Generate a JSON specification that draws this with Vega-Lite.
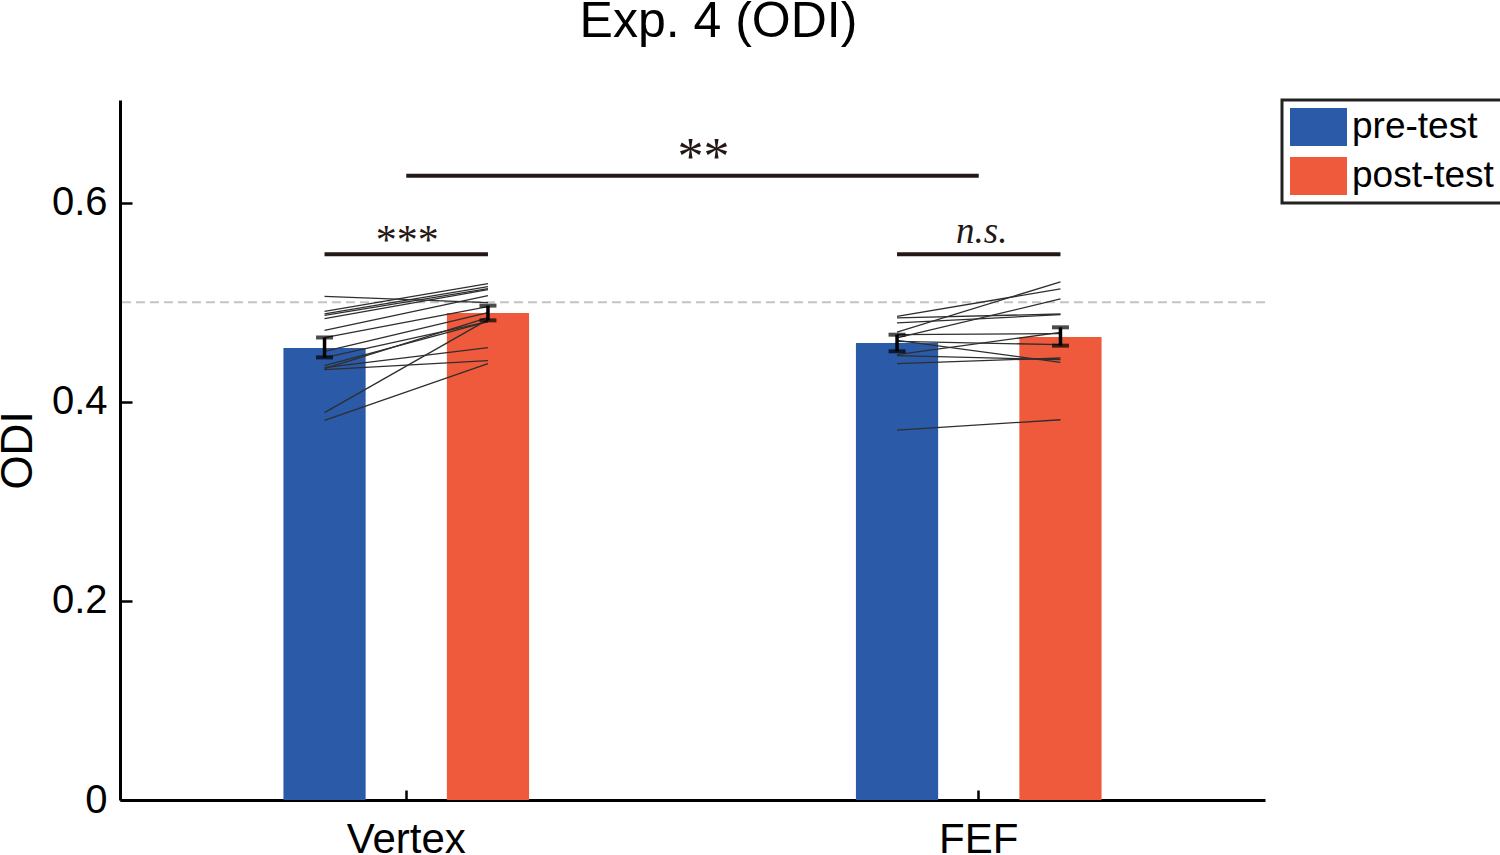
{
  "$schema": "https://vega.github.io/schema/vega-lite/v6.json",
  "width": 1145,
  "height": 700,
  "autosize": {"type": "none"},
  "padding": {"left": 120, "top": 100, "right": 235, "bottom": 55},
  "title": {
    "text": "Exp. 4 (ODI)",
    "fontSize": 50,
    "fontWeight": "normal",
    "font": "Liberation Sans",
    "color": "#000000",
    "anchor": "middle",
    "baseline": "alphabetic",
    "offset": 12,
    "dx": 26
  },
  "datasets": {
    "bars": [
      {"group": "Vertex", "phase": "pre-test", "mean": 0.454, "lo": 0.4445, "hi": 0.4645},
      {"group": "Vertex", "phase": "post-test", "mean": 0.489, "lo": 0.4817, "hi": 0.4965},
      {"group": "FEF", "phase": "pre-test", "mean": 0.459, "lo": 0.4506, "hi": 0.4673},
      {"group": "FEF", "phase": "post-test", "mean": 0.465, "lo": 0.4563, "hi": 0.4747}
    ],
    "subjects": [
      {"group": "Vertex", "subject": "V1", "phase": "pre-test", "odi": 0.5058},
      {"group": "Vertex", "subject": "V1", "phase": "post-test", "odi": 0.4995},
      {"group": "Vertex", "subject": "V2", "phase": "pre-test", "odi": 0.4908},
      {"group": "Vertex", "subject": "V2", "phase": "post-test", "odi": 0.5186},
      {"group": "Vertex", "subject": "V3", "phase": "pre-test", "odi": 0.4881},
      {"group": "Vertex", "subject": "V3", "phase": "post-test", "odi": 0.5156},
      {"group": "Vertex", "subject": "V4", "phase": "pre-test", "odi": 0.4867},
      {"group": "Vertex", "subject": "V4", "phase": "post-test", "odi": 0.5136},
      {"group": "Vertex", "subject": "V5", "phase": "pre-test", "odi": 0.4834},
      {"group": "Vertex", "subject": "V5", "phase": "post-test", "odi": 0.5126},
      {"group": "Vertex", "subject": "V6", "phase": "pre-test", "odi": 0.4717},
      {"group": "Vertex", "subject": "V6", "phase": "post-test", "odi": 0.5065},
      {"group": "Vertex", "subject": "V7", "phase": "pre-test", "odi": 0.4643},
      {"group": "Vertex", "subject": "V7", "phase": "post-test", "odi": 0.4955},
      {"group": "Vertex", "subject": "V8", "phase": "pre-test", "odi": 0.4506},
      {"group": "Vertex", "subject": "V8", "phase": "post-test", "odi": 0.4894},
      {"group": "Vertex", "subject": "V9", "phase": "pre-test", "odi": 0.4442},
      {"group": "Vertex", "subject": "V9", "phase": "post-test", "odi": 0.4804},
      {"group": "Vertex", "subject": "V10", "phase": "pre-test", "odi": 0.4362},
      {"group": "Vertex", "subject": "V10", "phase": "post-test", "odi": 0.4804},
      {"group": "Vertex", "subject": "V11", "phase": "pre-test", "odi": 0.4342},
      {"group": "Vertex", "subject": "V11", "phase": "post-test", "odi": 0.4543},
      {"group": "Vertex", "subject": "V12", "phase": "pre-test", "odi": 0.4322},
      {"group": "Vertex", "subject": "V12", "phase": "post-test", "odi": 0.4412},
      {"group": "Vertex", "subject": "V13", "phase": "pre-test", "odi": 0.4332},
      {"group": "Vertex", "subject": "V13", "phase": "post-test", "odi": 0.4844},
      {"group": "Vertex", "subject": "V14", "phase": "pre-test", "odi": 0.389},
      {"group": "Vertex", "subject": "V14", "phase": "post-test", "odi": 0.4824},
      {"group": "Vertex", "subject": "V15", "phase": "pre-test", "odi": 0.3812},
      {"group": "Vertex", "subject": "V15", "phase": "post-test", "odi": 0.4382},
      {"group": "FEF", "subject": "F1", "phase": "pre-test", "odi": 0.4857},
      {"group": "FEF", "subject": "F1", "phase": "post-test", "odi": 0.5133},
      {"group": "FEF", "subject": "F2", "phase": "pre-test", "odi": 0.4841},
      {"group": "FEF", "subject": "F2", "phase": "post-test", "odi": 0.4881},
      {"group": "FEF", "subject": "F3", "phase": "pre-test", "odi": 0.4791},
      {"group": "FEF", "subject": "F3", "phase": "post-test", "odi": 0.4874},
      {"group": "FEF", "subject": "F4", "phase": "pre-test", "odi": 0.47},
      {"group": "FEF", "subject": "F4", "phase": "post-test", "odi": 0.5203},
      {"group": "FEF", "subject": "F5", "phase": "pre-test", "odi": 0.4673},
      {"group": "FEF", "subject": "F5", "phase": "post-test", "odi": 0.4683},
      {"group": "FEF", "subject": "F6", "phase": "pre-test", "odi": 0.464},
      {"group": "FEF", "subject": "F6", "phase": "post-test", "odi": 0.5032},
      {"group": "FEF", "subject": "F7", "phase": "pre-test", "odi": 0.4616},
      {"group": "FEF", "subject": "F7", "phase": "post-test", "odi": 0.4395},
      {"group": "FEF", "subject": "F8", "phase": "pre-test", "odi": 0.4606},
      {"group": "FEF", "subject": "F8", "phase": "post-test", "odi": 0.4573},
      {"group": "FEF", "subject": "F9", "phase": "pre-test", "odi": 0.4472},
      {"group": "FEF", "subject": "F9", "phase": "post-test", "odi": 0.4696},
      {"group": "FEF", "subject": "F10", "phase": "pre-test", "odi": 0.4462},
      {"group": "FEF", "subject": "F10", "phase": "post-test", "odi": 0.4422},
      {"group": "FEF", "subject": "F11", "phase": "pre-test", "odi": 0.4382},
      {"group": "FEF", "subject": "F11", "phase": "post-test", "odi": 0.4439},
      {"group": "FEF", "subject": "F12", "phase": "pre-test", "odi": 0.3714},
      {"group": "FEF", "subject": "F12", "phase": "post-test", "odi": 0.3819}
    ],
    "within": [
      {"group": "Vertex", "phase": "pre-test", "level": 0.548, "label": "***"},
      {"group": "Vertex", "phase": "post-test", "level": 0.548, "label": "***"},
      {"group": "FEF", "phase": "pre-test", "level": 0.548, "label": "n.s."},
      {"group": "FEF", "phase": "post-test", "level": 0.548, "label": "n.s."}
    ],
    "withinLabels": [
      {"group": "Vertex", "level": 0.548, "label": "***"},
      {"group": "FEF", "level": 0.548, "label": "n.s."}
    ],
    "between": [
      {"group": "Vertex", "level": 0.627},
      {"group": "FEF", "level": 0.627}
    ],
    "betweenLabel": [
      {"comparison": "Vertex vs FEF", "level": 0.627, "label": "**"}
    ]
  },
  "layer": [
    {
      "layer": [
        {
          "data": {"values": [{"chance": 0.5}]},
          "mark": {"type": "rule", "color": "#c4c4c4", "strokeWidth": 2, "strokeDash": [9, 5]},
          "encoding": {
            "y": {"field": "chance", "type": "quantitative", "title": "ODI"}
          }
        },
        {
          "data": {"name": "bars"},
          "mark": {"type": "bar"},
          "encoding": {
            "x": {
              "field": "group", "type": "nominal", "sort": ["Vertex", "FEF"],
              "scale": {"domain": ["Vertex", "FEF"], "paddingInner": 0, "paddingOuter": 0},
              "axis": {
                "title": null, "labelAngle": 0, "labelFontSize": 42, "labelColor": "#000000",
                "labelPadding": 29, "tickSize": -10, "tickWidth": 2.5, "tickColor": "#000000",
                "domainColor": "#000000", "domainWidth": 3, "grid": false
              }
            },
            "xOffset": {
              "field": "phase", "type": "nominal",
              "scale": {"domain": ["pre-test", "post-test"], "paddingInner": 0.497, "paddingOuter": 1.0046}
            },
            "y": {
              "field": "mean", "type": "quantitative", "title": "ODI",
              "scale": {"domain": [0, 0.703], "nice": false},
              "axis": {
                "values": [0, 0.2, 0.4, 0.6], "format": "~g", "grid": false,
                "labelFontSize": 40, "labelColor": "#000000", "labelPadding": 25,
                "tickSize": -12, "tickWidth": 2.5, "tickColor": "#000000",
                "domainColor": "#000000", "domainWidth": 3,
                "titleFontSize": 44, "titleFontWeight": "normal", "titleColor": "#000000", "titlePadding": 11
              }
            },
            "color": {
              "field": "phase", "type": "nominal",
              "scale": {"domain": ["pre-test", "post-test"], "range": ["#2b5ba8", "#f05a3c"]},
              "legend": {
                "title": null, "orient": "right", "offset": 17,
                "labelFontSize": 37, "labelColor": "#000000", "labelOffset": 24,
                "symbolType": "M-1,-1H2V1H-1Z", "symbolSize": 1444,
                "symbolStrokeWidth": 0, "symbolOpacity": 1, "rowPadding": 11,
                "padding": 8, "strokeColor": "#222222", "fillColor": "#ffffff",
                "encode": {"legend": {"update": {"strokeWidth": {"value": 3}}}}
              }
            }
          }
        },
        {
          "data": {"name": "subjects"},
          "mark": {"type": "line", "color": "#2e2e2e", "strokeWidth": 1.3},
          "encoding": {
            "x": {"field": "group", "type": "nominal"},
            "xOffset": {"field": "phase", "type": "nominal"},
            "y": {"field": "odi", "type": "quantitative", "title": "ODI"},
            "detail": {"field": "subject"},
            "order": {"field": "phase", "sort": "descending"}
          }
        },
        {
          "data": {"name": "bars"},
          "mark": {"type": "rule", "color": "#000000", "strokeWidth": 3.5},
          "encoding": {
            "x": {"field": "group", "type": "nominal"},
            "xOffset": {"field": "phase", "type": "nominal"},
            "y": {"field": "lo", "type": "quantitative", "title": "ODI"},
            "y2": {"field": "hi"}
          }
        },
        {
          "data": {"name": "bars"},
          "mark": {"type": "tick", "color": "#000000", "size": 17, "thickness": 4, "orient": "horizontal"},
          "encoding": {
            "x": {"field": "group", "type": "nominal"},
            "xOffset": {"field": "phase", "type": "nominal"},
            "y": {"field": "lo", "type": "quantitative", "title": "ODI"}
          }
        },
        {
          "data": {"name": "bars"},
          "mark": {"type": "tick", "color": "#000000", "size": 17, "thickness": 4, "orient": "horizontal"},
          "encoding": {
            "x": {"field": "group", "type": "nominal"},
            "xOffset": {"field": "phase", "type": "nominal"},
            "y": {"field": "hi", "type": "quantitative", "title": "ODI"}
          }
        },
        {
          "data": {"name": "within"},
          "mark": {"type": "line", "color": "#231815", "strokeWidth": 4},
          "encoding": {
            "x": {"field": "group", "type": "nominal"},
            "xOffset": {"field": "phase", "type": "nominal"},
            "y": {"field": "level", "type": "quantitative", "title": "ODI"},
            "detail": {"field": "group"},
            "order": {"field": "phase", "sort": "descending"}
          }
        },
        {
          "data": {"name": "withinLabels"},
          "transform": [{"filter": "datum.label === '***'"}],
          "mark": {"type": "text", "font": "Liberation Serif", "fontSize": 42, "color": "#231815", "baseline": "alphabetic", "dy": 0, "dx": 1},
          "encoding": {
            "x": {"field": "group", "type": "nominal"},
            "y": {"field": "level", "type": "quantitative", "title": "ODI"},
            "text": {"field": "label"}
          }
        },
        {
          "data": {"name": "withinLabels"},
          "transform": [{"filter": "datum.label === 'n.s.'"}],
          "mark": {"type": "text", "font": "Liberation Serif", "fontStyle": "italic", "fontSize": 37, "color": "#231815", "baseline": "alphabetic", "dy": -11, "dx": 3},
          "encoding": {
            "x": {"field": "group", "type": "nominal"},
            "y": {"field": "level", "type": "quantitative", "title": "ODI"},
            "text": {"field": "label"}
          }
        },
        {
          "data": {"name": "between"},
          "mark": {"type": "line", "color": "#231815", "strokeWidth": 4},
          "encoding": {
            "x": {"field": "group", "type": "nominal"},
            "y": {"field": "level", "type": "quantitative", "title": "ODI"}
          }
        }
      ]
    },
    {
      "data": {"name": "betweenLabel"},
      "mark": {"type": "text", "font": "Liberation Serif", "fontSize": 52, "color": "#231815", "baseline": "alphabetic", "dy": -2, "dx": 11},
      "encoding": {
        "x": {"field": "comparison", "type": "nominal", "axis": null, "scale": {"paddingInner": 0, "paddingOuter": 0}},
        "y": {"field": "level", "type": "quantitative", "title": "ODI"},
        "text": {"field": "label"}
      }
    }
  ],
  "resolve": {"scale": {"x": "independent"}},
  "config": {
    "font": "Liberation Sans",
    "view": {"stroke": null},
    "axis": {"labelFont": "Liberation Sans", "titleFont": "Liberation Sans"},
    "legend": {"labelFont": "Liberation Sans"}
  }
}
